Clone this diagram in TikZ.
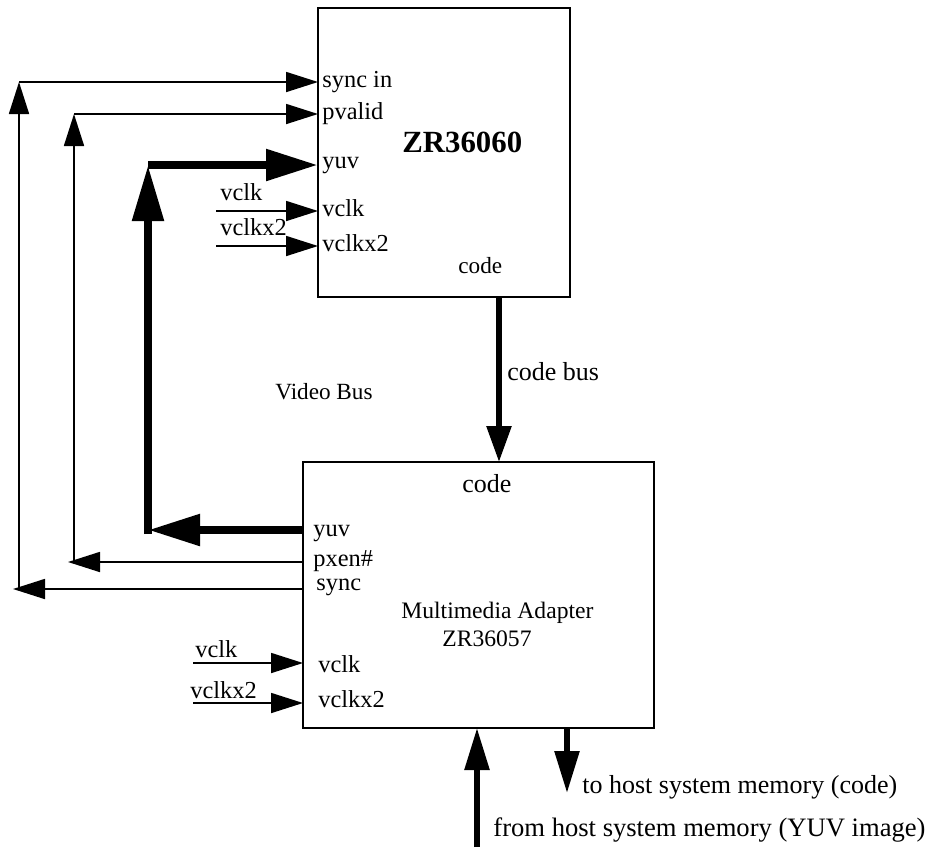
\documentclass[tikz,border=0pt]{standalone}
\usepackage{fontspec}
\setmainfont{Liberation Serif}
\usetikzlibrary{arrows.meta}
\begin{document}
\begin{tikzpicture}[x=0.5pt,y=-0.5pt,
  box/.style={draw, line width=1.1pt, inner sep=0pt},
  thinl/.style={line width=0.85pt},
  ta/.style={thinl,-{Triangle[length=16pt,width=10pt]}},
  yuva/.style={line width=4.2pt,-{Triangle[length=26pt,width=15pt]}},
  busa/.style={line width=2.8pt,-{Triangle[length=18pt,width=12pt]}},
  hosta/.style={line width=2.8pt,-{Triangle[length=21pt,width=12pt]}},
  lbl/.style={font=\fontsize{12.2}{14}\selectfont, inner sep=0pt, anchor=base west},
  plain/.style={line width=0.85pt}
]
\useasboundingbox (0,0) rectangle (933,858);

% boxes
\node[box, minimum width=126pt, minimum height=144.5pt] (zr) at (444,152.5) {};
\node[box, minimum width=175.5pt, minimum height=133pt] (ma) at (478.5,595) {};

% box texts
\node[lbl, font=\bfseries\fontsize{15.4}{18}\selectfont] (title1) at (402,152) {ZR36060};
\node[lbl, font=\fontsize{11.6}{14}\selectfont] (code1) at (458,273) {code};
\node[lbl, font=\fontsize{13}{15}\selectfont] (code2) at (462,492) {code};
\node[lbl, font=\fontsize{11.8}{14}\selectfont] (title2a) at (401,618) {Multimedia Adapter};
\node[lbl, font=\fontsize{11.8}{14}\selectfont] (title2b) at (442,646) {ZR36057};
\node[lbl, font=\fontsize{11.6}{14}\selectfont] (vbus) at (275,399) {Video Bus};
\node[lbl, font=\fontsize{13}{15}\selectfont] (cbus) at (507,380) {code bus};

% top box pin labels
\node[lbl] (l-syncin) at (322,87) {sync in};
\node[lbl] (l-pvalid) at (322,119) {pvalid};
\node[lbl] (l-yuv1) at (322,168) {yuv};
\node[lbl] (l-vclk1) at (322,216) {vclk};
\node[lbl] (l-vclkx21) at (322,251) {vclkx2};
\node[lbl] (e-vclk1) at (220,200) {vclk};
\node[lbl] (e-vclkx21) at (220,235) {vclkx2};

% bottom box pin labels
\node[lbl] (l-yuv2) at (313,536) {yuv};
\node[lbl] (l-pxen) at (313,566) {pxen\#};
\node[lbl] (l-sync) at (316,590) {sync};
\node[lbl] (l-vclk2) at (318,672) {vclk};
\node[lbl] (l-vclkx22) at (318,707) {vclkx2};
\node[lbl] (e-vclk2) at (195,657) {vclk};
\node[lbl] (e-vclkx22) at (190,698) {vclkx2};

% host texts
\node[lbl, font=\fontsize{13}{15}\selectfont] (tohost) at (582,793) {to host system memory (code)};
\node[lbl, font=\fontsize{13.3}{15}\selectfont] (fromhost) at (493,836) {from host system memory (YUV image)};

% coordinates
\coordinate (zsync) at (318,82);
\coordinate (zpvalid) at (318,114);
\coordinate (zyuv) at (318,165);
\coordinate (zvclk) at (318,211);
\coordinate (zvclkx2) at (318,246);
\coordinate (v1s) at (216,211);
\coordinate (v2s) at (216,246);

\coordinate (myuv) at (303,530);
\coordinate (mpxen) at (303,562);
\coordinate (msync) at (303,589);
\coordinate (mvclk) at (303,663);
\coordinate (mvclkx2) at (303,703);
\coordinate (v3s) at (193,663);
\coordinate (v4s) at (193,703);

\coordinate (cA1) at (19,589);
\coordinate (cA2) at (19,82);
\coordinate (cB1) at (74,562);
\coordinate (cB2) at (74,114);
\coordinate (cC1) at (148,530);
\coordinate (cC2) at (148,165);

\coordinate (cb1) at (499,297);
\coordinate (cb2) at (499,462);
\coordinate (h1s) at (477,847);
\coordinate (h1e) at (477,728);
\coordinate (h2s) at (567,727);
\coordinate (h2e) at (567,793);

% sync loop
\draw[ta] (msync) -- ([xshift=-3pt]cA1);
\draw[ta] (cA1) -- (cA2);
\draw[ta] (cA2) -- (zsync);
% pvalid loop
\draw[ta] (mpxen) -- ([xshift=-3pt]cB1);
\draw[ta] (cB1) -- (cB2);
\draw[ta] (cB2) -- (zpvalid);
% yuv loop
\draw[yuva] (myuv) -- (cC1);
\draw[line width=4.2pt] (cC1) -- ([yshift=-2.1pt]cC1);
\draw[line width=4.2pt,-{Triangle[length=28pt,width=15pt]}] ([yshift=-2.1pt]cC1) -- (cC2);
\draw[yuva] (cC2) -- (zyuv);

% clocks
\draw[ta] (v1s) -- (zvclk);
\draw[ta] (v2s) -- (zvclkx2);
\draw[ta] (v3s) -- (mvclk);
\draw[ta] (v4s) -- (mvclkx2);

% code bus
\draw[busa] (cb1) -- (cb2);
% host arrows
\draw[hosta] (h1s) -- (h1e);
\draw[hosta] (h2s) -- (h2e);
\end{tikzpicture}
\end{document}
